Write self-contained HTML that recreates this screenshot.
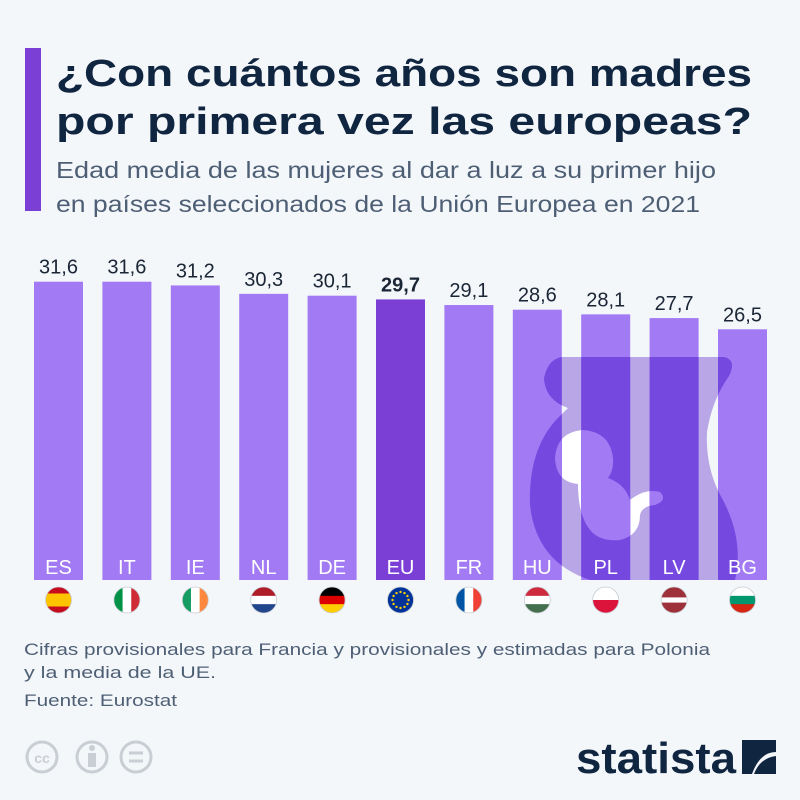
<!DOCTYPE html>
<html><head><meta charset="utf-8"><style>
html,body{margin:0;padding:0;background:#f4f7fa;}
svg{display:block;font-family:"Liberation Sans",sans-serif;}
</style></head><body>
<svg id="chart" width="800" height="800" viewBox="0 0 800 800" xmlns="http://www.w3.org/2000/svg">
<rect width="800" height="800" fill="#f4f7fa"/>
<rect x="25" y="48" width="16" height="163" fill="#7b3fd6"/>
<g font-weight="bold" fill="#0f2540" font-size="38">
<text x="56" y="86" textLength="696" lengthAdjust="spacingAndGlyphs">¿Con cuántos años son madres</text>
<text x="56" y="134" textLength="696" lengthAdjust="spacingAndGlyphs">por primera vez las europeas?</text>
</g>
<g fill="#4e5f75" font-size="23">
<text x="56" y="178" textLength="660" lengthAdjust="spacingAndGlyphs">Edad media de las mujeres al dar a luz a su primer hijo</text>
<text x="56" y="212" textLength="644" lengthAdjust="spacingAndGlyphs">en países seleccionados de la Unión Europea en 2021</text>
</g>
<defs><clipPath id="barclip"></clipPath></defs>
<g id="under"></g>
<g id="bars"></g>
<g id="over" clip-path="url(#barclip)"></g>
<g id="labels"></g>
<g id="flags"></g>
<g fill="#4e5f75" font-size="17">
<text x="24" y="655" textLength="686" lengthAdjust="spacingAndGlyphs">Cifras provisionales para Francia y provisionales y estimadas para Polonia</text>
<text x="24" y="678" textLength="192" lengthAdjust="spacingAndGlyphs">y la media de la UE.</text>
<text x="24" y="706" textLength="153" lengthAdjust="spacingAndGlyphs">Fuente: Eurostat</text>
</g>
<g fill="none" stroke="#c9ced4" stroke-width="3">
<circle cx="42" cy="757" r="15"/><text x="42" y="763" font-size="14" font-weight="bold" text-anchor="middle" fill="#c9ced4" stroke="none">cc</text>
<circle cx="92" cy="757" r="15"/><circle cx="92" cy="748" r="3" fill="#c9ced4" stroke="none"/><rect x="88" y="753" width="8" height="14" fill="#c9ced4" stroke="none"/>
<circle cx="136" cy="757" r="15"/><line x1="129" y1="753" x2="143" y2="753"/><line x1="129" y1="761" x2="143" y2="761"/>
</g>
<g>
<text x="576" y="773" font-size="44" font-weight="bold" fill="#0f2540" textLength="160" lengthAdjust="spacingAndGlyphs">statista</text>
<path d="M742 740 H776 V752 Q760 752 752 774 H742 Z M776 774 H754 Q760 758 776 756 Z" fill="#0f2540"/>
</g>
</svg>
<script>
const categories = ["ES","IT","IE","NL","DE","EU","FR","HU","PL","LV","BG"];
const values = [31.6,31.6,31.2,30.3,30.1,29.7,29.1,28.6,28.1,27.7,26.5];
const valueLabels = ["31,6","31,6","31,2","30,3","30,1","29,7","29,1","28,6","28,1","27,7","26,5"];
const highlight = "EU";

const NS="http://www.w3.org/2000/svg";
const bottom=580, barW=49, step=68.4, x0=34;
function xPos(i){return x0+i*step;}
function yPos(v){return 281.7+(31.6-v)*9.33;}
function mk(tag,attrs,parent){const e=document.createElementNS(NS,tag);for(const k in attrs)e.setAttribute(k,attrs[k]);parent.appendChild(e);return e;}

const bodyPath="M562 357 L724 357 Q737 360 729 376 Q712 400 707 432 Q705 470 724 502 Q744 542 735 580 L590 580 Q536 562 530 505 Q528 445 562 414 L568 408 Q545 400 544 378 Q548 359 562 357 Z";
const fetusPath="M583 430 Q610 432 613 458 Q614 470 608 478 Q625 484 630 500 Q645 488 660 492 Q668 500 655 505 Q642 506 640 515 Q640 535 620 540 Q600 542 590 530 Q578 515 578 484 Q556 482 555 458 Q557 432 583 430 Z";

const under=document.getElementById('under');
const ub=mk('path',{d:bodyPath,fill:'#b9a6e6'},under);


const uf=mk('path',{d:fetusPath,fill:'#ffffff'},under);



const bars=document.getElementById('bars'), clip=document.getElementById('barclip');
const labels=document.getElementById('labels'), flags=document.getElementById('flags');
categories.forEach((c,i)=>{
  const x=xPos(i), y=yPos(values[i]);
  const r=mk('rect',{x:x,y:y,width:barW,height:bottom-y,fill:c===highlight?'#7b3fd6':'#a27af4'},bars);
  
  
  if(c!==highlight) mk('rect',{x:x,y:y,width:barW,height:bottom-y},clip);
  const t=mk('text',{x:x+barW/2,y:y-8,'text-anchor':'middle','font-size':20,fill:'#1a2535','font-weight':c===highlight?'bold':'normal'},labels);
  t.textContent=valueLabels[i];
  
  
  const cl=mk('text',{x:x+barW/2,y:574,'text-anchor':'middle','font-size':20,fill:'#ffffff'},labels);
  cl.textContent=c;
  
  
});
const over=document.getElementById('over');
mk('path',{d:bodyPath,fill:'#7548e0'},over);
mk('path',{d:fetusPath,fill:'#a27af4'},over);

const flagDefs={
 ES:[["#c60b1e",0,.25],["#ffc400",.25,.5],["#c60b1e",.75,.25]],
 NL:[["#ae1c28",0,.34],["#ffffff",.34,.32],["#21468b",.66,.34]],
 DE:[["#000000",0,.34],["#dd0000",.34,.32],["#ffce00",.66,.34]],
 HU:[["#cd2a3e",0,.34],["#ffffff",.34,.32],["#436f4d",.66,.34]],
 PL:[["#ffffff",0,.5],["#dc143c",.5,.5]],
 LV:[["#9e3039",0,.4],["#ffffff",.4,.2],["#9e3039",.6,.4]],
 BG:[["#ffffff",0,.34],["#00966e",.34,.32],["#d62612",.66,.34]]
};
const vflags={IT:["#009246","#ffffff","#ce2b37"],IE:["#169b62","#ffffff","#ff883e"],FR:["#0055a4","#ffffff","#ef4135"]};
categories.forEach((c,i)=>{
  const cx=xPos(i)+barW/2, cy=600, R=13;
  const g=mk('g',{},flags);
  
  
  const cid='fc'+i;
  const cp=mk('clipPath',{id:cid},g); mk('circle',{cx:cx,cy:cy,r:R},cp);
  const inner=mk('g',{'clip-path':'url(#'+cid+')'},g);
  if(flagDefs[c]) flagDefs[c].forEach(s=>mk('rect',{x:cx-R,y:cy-R+s[1]*2*R,width:2*R,height:s[2]*2*R+0.5,fill:s[0]},inner));
  else if(vflags[c]) vflags[c].forEach((col,k)=>mk('rect',{x:cx-R+k*2*R/3,y:cy-R,width:2*R/3+0.5,height:2*R,fill:col},inner));
  else if(c==="EU"){mk('rect',{x:cx-R,y:cy-R,width:2*R,height:2*R,fill:'#003399'},inner);
    for(let k=0;k<12;k++){const a=k*Math.PI/6;mk('circle',{cx:cx+8*Math.cos(a),cy:cy+8*Math.sin(a),r:1.2,fill:'#ffcc00'},inner);}}
  mk('circle',{cx:cx,cy:cy,r:R,fill:'none',stroke:'#c8ccd2','stroke-width':0.8},g);
});
</script>
</body></html>
